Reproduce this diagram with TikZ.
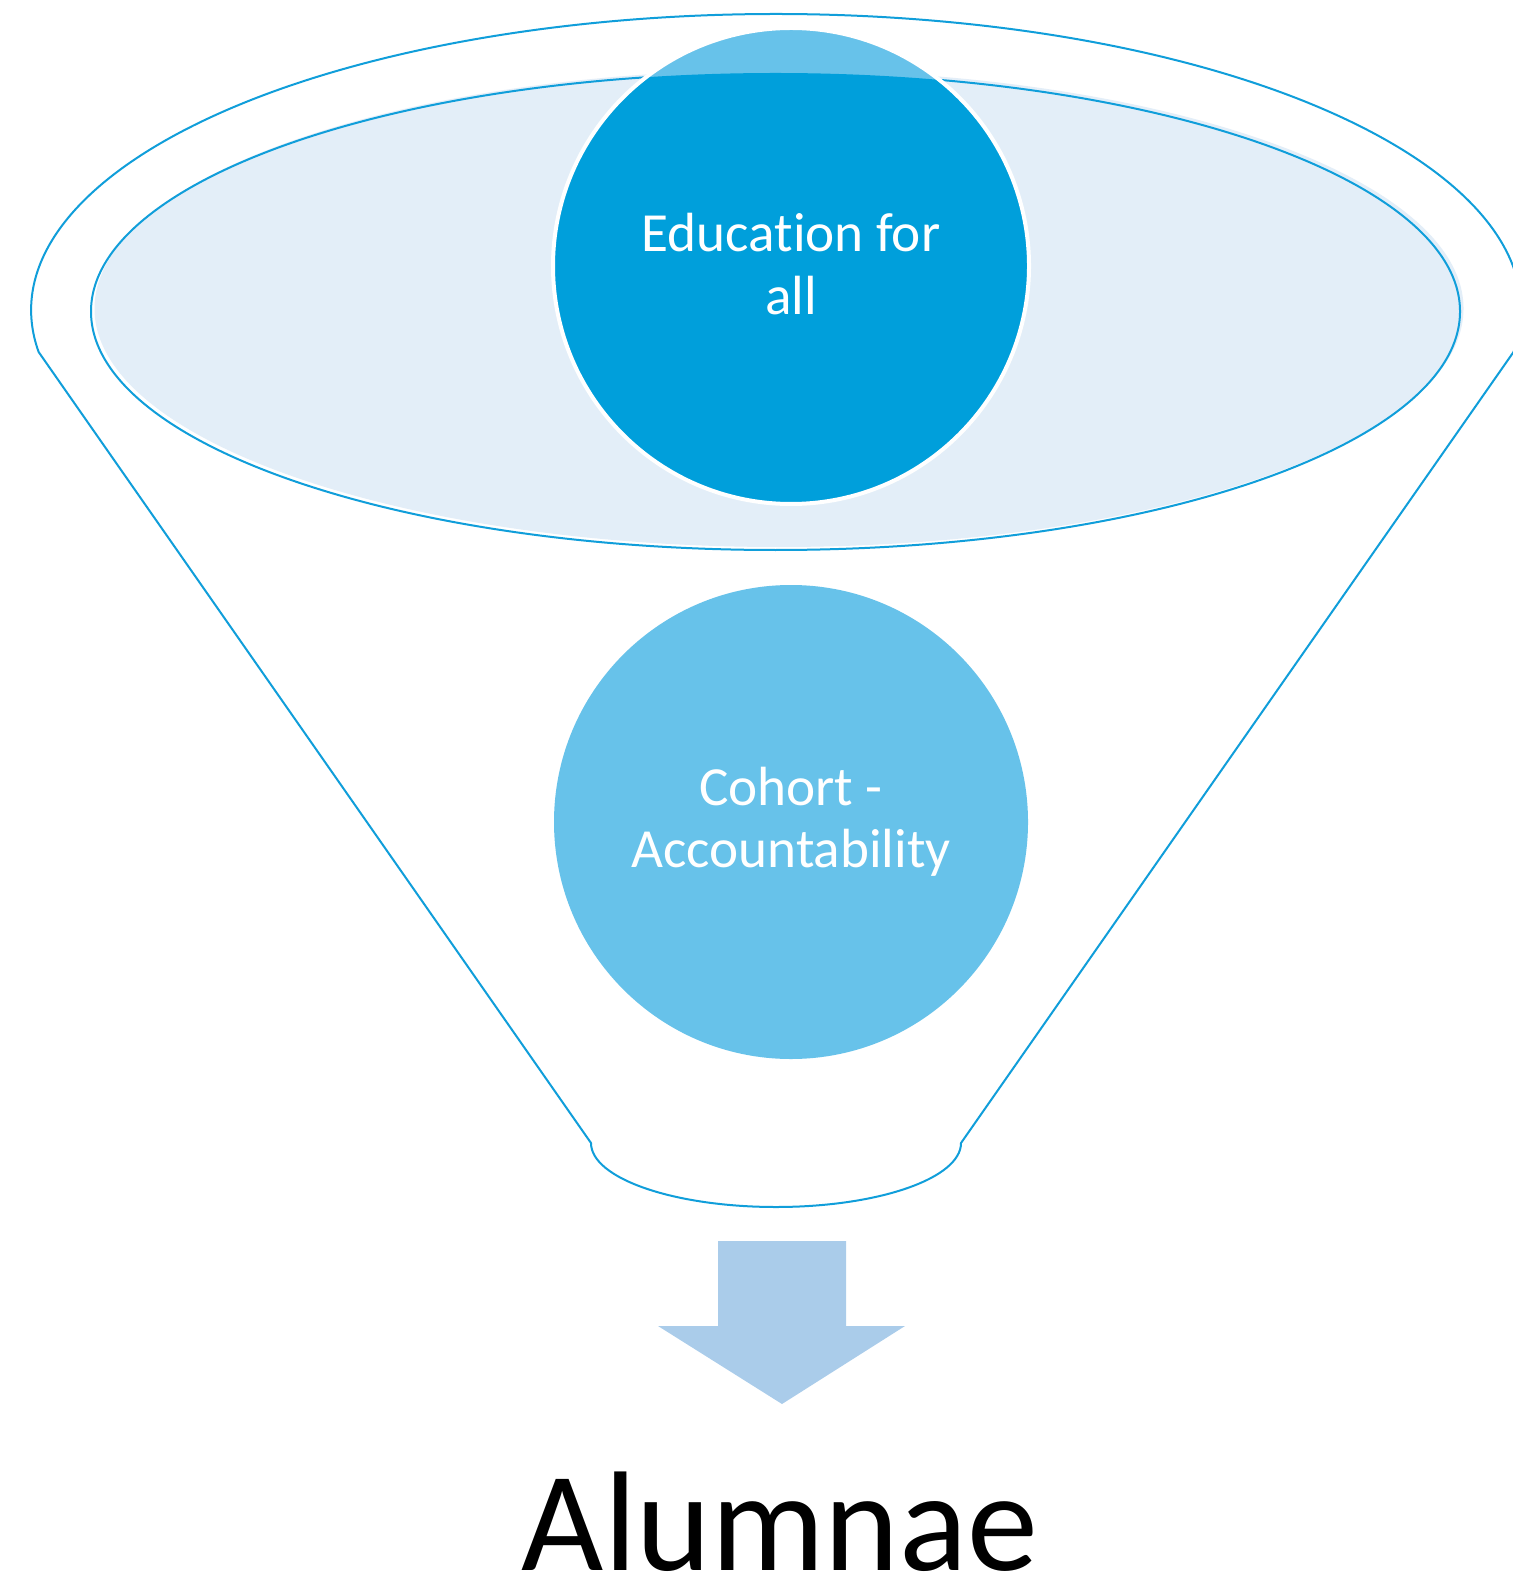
\documentclass[tikz,border=0pt]{standalone}
\usepackage{fontspec}
\setmainfont{Carlito}[Ligatures=CommonOff]
\definecolor{funnelline}{RGB}{16,158,218}
\definecolor{darkblue}{RGB}{0,159,219}
\definecolor{lightblue}{RGB}{103,194,234}
\definecolor{ellfill}{RGB}{227,238,248}
\definecolor{arrowblue}{RGB}{170,204,234}
\tikzset{
  funnel/.style={draw=funnelline, line width=1pt, line join=round},
  bubble/.style={circle, inner sep=0pt, minimum size=237pt, text=white, align=center,
     font=\fontsize{27.6pt}{31.2pt}\selectfont},
  bigtext/.style={font=\fontsize{71pt}{80pt}\selectfont, text=black, inner sep=0pt}
}
\begin{document}
\begin{tikzpicture}[x=0.5pt,y=0.5pt]
\useasboundingbox (0,0) rectangle (1512,-1582);
% outer funnel
\draw[funnel, fill=white] (1513.5,-352) arc[start angle=-8.16, end angle=188.16, x radius=745, y radius=296]
  -- (591,-1143) arc[start angle=180, end angle=360, x radius=185, y radius=64] -- cycle;
% inner ellipse (fill slightly offset, then outline)
\fill[ellfill] (779,-308.5) ellipse[x radius=684.5, y radius=238.5];
\draw[funnel] (775.5,-311.5) ellipse[x radius=684.5, y radius=238.5];
% top circle
\fill[lightblue] (791,-266) circle[radius=237];
\begin{scope}
  \clip (775.5,-311.5) ellipse[x radius=684.5, y radius=238.5];
  \fill[darkblue] (791,-266) circle[radius=237];
\end{scope}
\draw[white, line width=2pt] (791,-266) circle[radius=238];
\node[bubble] (edu) at (791,-264) {Education for\\all};
% bottom circle
\node[bubble, fill=lightblue] (cohort) at (791,-822) {Cohort -\\Accountability};
% arrow
\fill[arrowblue] (718,-1241) -- (846,-1241) -- (846,-1326) -- (905,-1326) -- (782,-1404)
  -- (658,-1326) -- (718,-1326) -- cycle;
\coordinate (tip) at (782,-1404);
% label
\node[bigtext, anchor=base] (alum) at (780,-1570) {Alumnae};
\end{tikzpicture}
\end{document}
